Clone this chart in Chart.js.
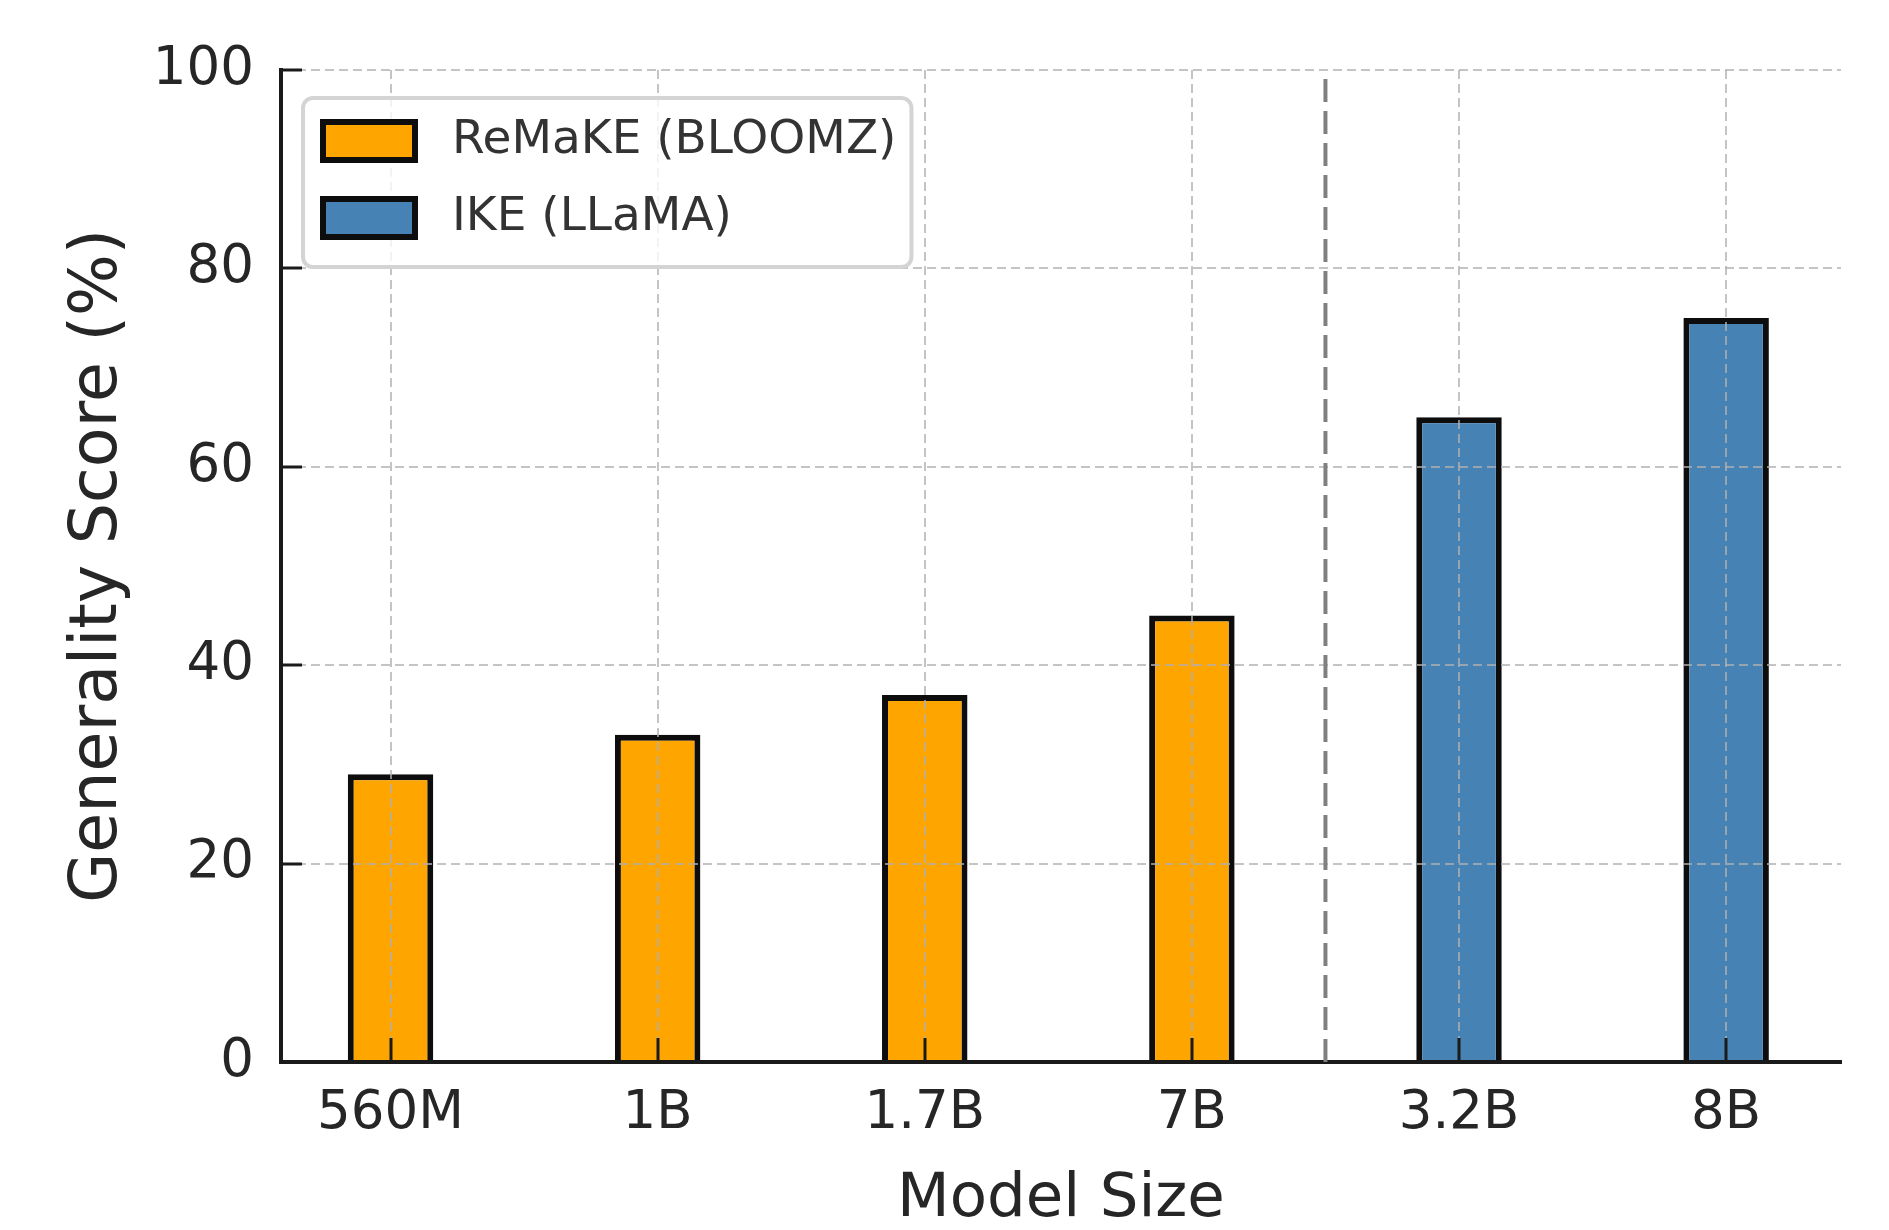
<!DOCTYPE html>
<html>
<head>
<meta charset="utf-8">
<title>Generality Score by Model Size</title>
<script src="https://cdn.jsdelivr.net/npm/chart.js@4.4.1/dist/chart.umd.min.js"></script>
<style>
    html, body { margin: 0; padding: 0; background: #ffffff; }
    #wrap { width: 1889px; height: 1230px; position: relative; }
</style>
</head>
<body>
<div id="wrap"><canvas id="GeneralityChart"></canvas></div>
<script>
// values
var remakeSizes = ['560M', '1B', '1.7B', '7B'];
var remakeScores = [29, 33, 37, 45];
var ikeSizes = ['3.2B', '8B'];
var ikeScores = [65, 75];
var yTickValues = [0, 20, 40, 60, 80, 100];

var modelSizes = remakeSizes.concat(ikeSizes);
var FONT = 'DejaVu Sans';
var TEXT = '#262626';
var GRID = 'rgba(176, 176, 176, 0.75)';

// bars sit on integer x positions, ReMaKE first then IKE
function toPoints(scores, start) {
    return scores.map(function (v, i) { return { x: start + i, y: v }; });
}

function roundedBox(ctx, x, y, w, h, r) {
    ctx.beginPath();
    ctx.moveTo(x + r, y);
    ctx.arcTo(x + w, y, x + w, y + h, r);
    ctx.arcTo(x + w, y + h, x, y + h, r);
    ctx.arcTo(x, y + h, x, y, r);
    ctx.arcTo(x, y, x + w, y, r);
    ctx.closePath();
}

// tick padding would otherwise push the plot area inwards
function noLabelPadding(scale) {
    scale.paddingTop = 0;
    scale.paddingBottom = 0;
    scale.paddingLeft = 0;
    scale.paddingRight = 0;
}

// dashed line between the two model families
var separatorPlugin = {
    id: 'separator',
    afterDraw: function (chart) {
        var ctx = chart.ctx;
        var area = chart.chartArea;
        var x = chart.scales.x.getPixelForValue(remakeSizes.length - 0.5);
        ctx.save();
        ctx.strokeStyle = '#808080';
        ctx.lineWidth = 4;
        ctx.setLineDash([23, 9]);
        ctx.beginPath();
        ctx.moveTo(x, area.bottom);
        ctx.lineTo(x, area.top);
        ctx.stroke();
        ctx.restore();
    }
};

// legend inside the plot, drawn last so its frame sits over the grid
var boxLegendPlugin = {
    id: 'boxLegend',
    afterDraw: function (chart) {
        var ctx = chart.ctx;
        var area = chart.chartArea;
        var sets = chart.data.datasets;
        ctx.save();
        ctx.font = '47px "' + FONT + '"';
        var textW = 0;
        sets.forEach(function (ds) {
            textW = Math.max(textW, ctx.measureText(ds.label).width);
        });
        var x0 = area.left + 22;
        var y0 = area.top + 28;
        var w = 149 + textW + 15;
        var h = 169;

        roundedBox(ctx, x0, y0, w, h, 10);
        ctx.fillStyle = 'rgba(255, 255, 255, 0.8)';
        ctx.fill();
        ctx.lineWidth = 4;
        ctx.strokeStyle = '#d4d4d4';
        ctx.stroke();

        sets.forEach(function (ds, i) {
            var cy = y0 + 43 + i * 77;
            ctx.fillStyle = ds.backgroundColor;
            ctx.fillRect(x0 + 20, cy - 19, 92, 38);
            ctx.lineWidth = 6;
            ctx.strokeStyle = ds.borderColor;
            ctx.strokeRect(x0 + 20, cy - 19, 92, 38);
            ctx.fillStyle = '#333333';
            ctx.textBaseline = 'middle';
            ctx.textAlign = 'left';
            ctx.fillText(ds.label, x0 + 149, cy);
        });
        ctx.restore();
    }
};

var ctx = document.getElementById('GeneralityChart').getContext('2d');
var myChart = new Chart(ctx, {
    type: 'bar',
    data: {
        datasets: [{
            label: 'ReMaKE (BLOOMZ)',
            data: toPoints(remakeScores, 0),
            backgroundColor: '#FFA500',
            borderColor: '#0d0d0d',
            borderWidth: 6
        }, {
            label: 'IKE (LLaMA)',
            data: toPoints(ikeScores, remakeSizes.length),
            backgroundColor: '#4682B4',
            borderColor: '#0d0d0d',
            borderWidth: 6
        }]
    },
    options: {
        responsive: true,
        maintainAspectRatio: false,
        animation: false,
        datasets: {
            bar: {
                grouped: false,
                categoryPercentage: 1,
                barPercentage: 0.32
            }
        },
        layout: {
            padding: { top: 70, right: 48, bottom: 0, left: 0 }
        },
        plugins: {
            legend: { display: false },
            tooltip: { enabled: false }
        },
        scales: {
            x: {
                type: 'linear',
                offset: false,
                min: -0.41,
                max: 5.43,
                afterBuildTicks: function (scale) {
                    scale.ticks = modelSizes.map(function (s, i) { return { value: i }; });
                },
                afterFit: function (scale) {
                    scale.height = 168;
                    noLabelPadding(scale);
                },
                ticks: {
                    callback: function (value, index) { return modelSizes[index]; },
                    font: { family: FONT, size: 53 },
                    color: TEXT,
                    padding: 44,
                    maxRotation: 0,
                    autoSkip: false
                },
                grid: {
                    z: 1,
                    offset: false,
                    color: GRID,
                    lineWidth: 2,
                    tickLength: -24,
                    tickWidth: 3,
                    tickColor: '#1a1a1a'
                },
                border: { z: 2, color: '#1a1a1a', width: 4, dash: [9, 5] },
                title: {
                    display: true,
                    text: 'Model Size',
                    color: TEXT,
                    font: { family: FONT, size: 61, lineHeight: 1 },
                    padding: { top: 0, bottom: -1 }
                }
            },
            y: {
                min: 0,
                max: 100,
                afterBuildTicks: function (scale) {
                    scale.ticks = yTickValues.map(function (v) { return { value: v }; });
                },
                afterFit: function (scale) {
                    scale.width = 281;
                    noLabelPadding(scale);
                },
                ticks: {
                    font: { family: FONT, size: 53 },
                    color: TEXT,
                    padding: 48
                },
                grid: {
                    z: 1,
                    color: GRID,
                    lineWidth: 2,
                    tickLength: -21,
                    tickWidth: 3,
                    tickColor: '#1a1a1a'
                },
                border: { z: 2, color: '#1a1a1a', width: 4, dash: [9, 5] },
                title: {
                    display: true,
                    text: 'Generality Score (%)',
                    color: TEXT,
                    font: { family: FONT, size: 65, lineHeight: 1 },
                    padding: { top: 67, bottom: 0 }
                }
            }
        }
    },
    plugins: [separatorPlugin, boxLegendPlugin]
});
</script>
</body>
</html>
